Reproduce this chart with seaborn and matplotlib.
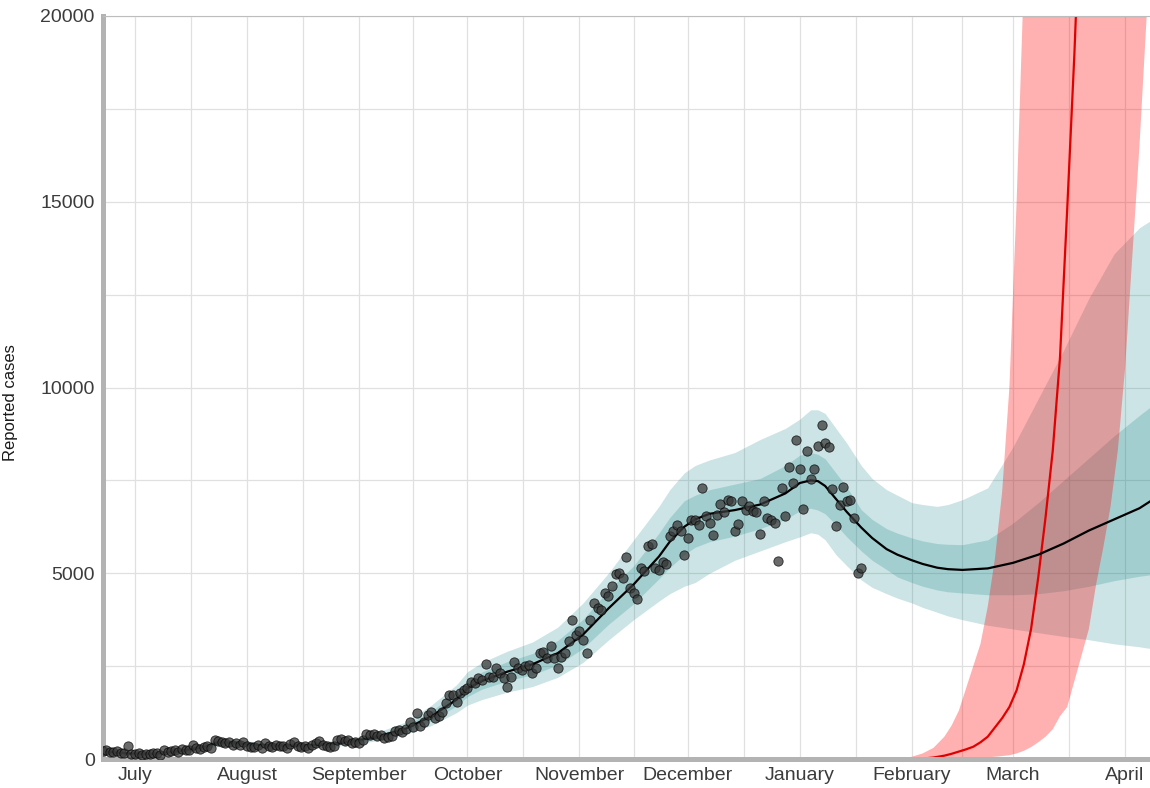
import pandas as pd
import matplotlib
matplotlib.use("Agg")
import matplotlib.pyplot as plt
import seaborn as sns

# Daily reported cases, one value per day starting on case_start
case_start = "2020-06-22"
reported_cases = [
    220, 240, 200, 180, 210, 160, 150, 360, 140, 130,
    150, 120, 140, 130, 160, 150, 120, 240, 180, 220,
    230, 200, 260, 240, 230, 380, 300, 280, 330, 350,
    300, 520, 480, 450, 430, 470, 390, 420, 380, 460,
    350, 320, 330, 380, 300, 440, 350, 320, 390, 340,
    360, 300, 410, 450, 340, 320, 350, 300, 380, 430,
    480, 380, 360, 320, 350, 510, 540, 490, 520, 440,
    470, 430, 500, 680, 640, 660, 620, 650, 560, 580,
    620, 760, 780, 740, 800, 1000, 850, 1230, 900, 1000,
    1190, 1270, 1100, 1150, 1270, 1500, 1720, 1720, 1540, 1770,
    1860, 1900, 2080, 2040, 2180, 2130, 2560, 2220, 2220, 2460,
    2310, 2180, 1950, 2220, 2600, 2440, 2400, 2490, 2530, 2310,
    2440, 2850, 2890, 2710, 3040, 2710, 2440, 2740, 2850, 3170,
    3750, 3340, 3440, 3210, 2850, 3750, 4190, 4060, 4000, 4460,
    4390, 4650, 4980, 5000, 4870, 5440, 4600, 4460, 4300, 5140,
    5050, 5740, 5790, 5140, 5090, 5290, 5250, 5990, 6130, 6310,
    6150, 5500, 5950, 6420, 6420, 6310, 7290, 6530, 6350, 6040,
    6570, 6870, 6660, 6980, 6950, 6140, 6320, 6940, 6710, 6800,
    6670, 6650, 6060, 6940, 6490, 6440, 6350, 5330, 7290, 6530,
    7860, 7440, 8600, 7810, 6730, 8280, 7530, 7810, 8430, 9000,
    8500, 8400, 7270, 6280, 6850, 7320, 6940, 6970, 6500, 5020, 5140,
]

# Model fit: median and the two credible bands
fit_dates = [
    "2020-06-22", "2020-06-29", "2020-07-06", "2020-07-13", "2020-07-20",
    "2020-07-24", "2020-07-27", "2020-08-03", "2020-08-10", "2020-08-17",
    "2020-08-24", "2020-08-31", "2020-09-07", "2020-09-14", "2020-09-21",
    "2020-09-28", "2020-10-01", "2020-10-05", "2020-10-12", "2020-10-19",
    "2020-10-26", "2020-11-02", "2020-11-09", "2020-11-16", "2020-11-23",
    "2020-11-26", "2020-11-30", "2020-12-03", "2020-12-07", "2020-12-14",
    "2020-12-21", "2020-12-28", "2021-01-01", "2021-01-04", "2021-01-06",
    "2021-01-08", "2021-01-11", "2021-01-14", "2021-01-18", "2021-01-21",
    "2021-01-25", "2021-01-28", "2021-02-01", "2021-02-04", "2021-02-08",
    "2021-02-11", "2021-02-15", "2021-02-22", "2021-03-01", "2021-03-08",
    "2021-03-15", "2021-03-22", "2021-03-29", "2021-04-05", "2021-04-09",
]
fit_median = [
    200, 150, 140, 210, 320, 450, 440, 380, 360, 370,
    400, 490, 620, 820, 1150, 1600, 1900, 2100, 2350, 2550,
    2850, 3350, 4050, 4700, 5450, 5850, 6250, 6450, 6600, 6700,
    6850, 7150, 7430, 7500, 7480, 7350, 7000, 6650, 6230, 5950,
    5650, 5500, 5350, 5250, 5150, 5110, 5090, 5130, 5280, 5500,
    5800, 6150, 6450, 6750, 7000,
]
outer_lo = [
    100, 90, 90, 150, 250, 360, 360, 310, 290, 300,
    320, 400, 510, 670, 900, 1250, 1450, 1600, 1800, 1950,
    2200, 2600, 3200, 3750, 4250, 4450, 4650, 4750, 5000, 5350,
    5600, 5850, 5980, 6090, 6050, 5900, 5500, 5200, 4820, 4620,
    4450, 4330, 4200, 4080, 3950, 3850, 3750, 3600, 3500, 3400,
    3300, 3210, 3100, 3020, 2960,
]
outer_hi = [
    300, 220, 200, 280, 400, 540, 530, 460, 440, 450,
    490, 590, 750, 1000, 1450, 2000, 2350, 2600, 2900, 3150,
    3550, 4200, 5000, 5900, 6800, 7250, 7700, 7900, 8050, 8250,
    8600, 8900, 9150, 9400, 9400, 9300, 8900, 8500, 7900, 7550,
    7250, 7100, 6900, 6850, 6800, 6850, 6980, 7300, 8400, 9700,
    11000, 12400, 13600, 14300, 14550,
]
inner_lo = [
    150, 115, 110, 180, 285, 410, 400, 345, 325, 335,
    360, 445, 560, 740, 1030, 1430, 1680, 1880, 2100, 2270,
    2530, 2980, 3620, 4180, 4850, 5150, 5500, 5700, 5850, 6000,
    6200, 6450, 6680, 6750, 6700, 6600, 6300, 5980, 5600, 5350,
    5100, 4900, 4750, 4650, 4550, 4500, 4470, 4420, 4420, 4450,
    4530, 4650, 4800, 4920, 4970,
]
inner_hi = [
    250, 185, 170, 245, 360, 495, 485, 420, 400, 410,
    445, 540, 690, 900, 1290, 1790, 2110, 2340, 2620, 2840,
    3190, 3760, 4540, 5200, 6080, 6500, 6950, 7100, 7250, 7400,
    7550, 7900, 8180, 8250, 8200, 8080, 7700, 7320, 6710, 6450,
    6200, 6080, 5950, 5870, 5800, 5780, 5770, 5900, 6350, 6900,
    7500, 8100, 8700, 9250, 9550,
]

# New variant projection
variant_dates = [
    "2021-01-29", "2021-02-01", "2021-02-04", "2021-02-07", "2021-02-10",
    "2021-02-12", "2021-02-14", "2021-02-16", "2021-02-18", "2021-02-20",
    "2021-02-22", "2021-02-24", "2021-02-26", "2021-02-28", "2021-03-02",
    "2021-03-04", "2021-03-06", "2021-03-08", "2021-03-10", "2021-03-12",
    "2021-03-14", "2021-03-16", "2021-03-18", "2021-03-20", "2021-03-22",
    "2021-03-24", "2021-03-26", "2021-03-28", "2021-03-30", "2021-04-01",
    "2021-04-03", "2021-04-05", "2021-04-07", "2021-04-09",
]
variant_lo = [
    0, 0, 0, 0, 5, 10, 15, 20, 30, 40,
    50, 60, 80, 100, 150, 220, 320, 450, 600, 800,
    1150, 1400, 2100, 2800, 3500, 4700, 5700, 6800, 8300, 10500,
    13500, 16500, 20000, 23000,
]
variant_median = [
    0, 0, 10, 40, 90, 140, 200, 260, 330, 450,
    600, 850, 1100, 1400, 1850, 2550, 3500, 4900, 6500, 8300,
    10800, 14800, 19000, 24000, 30000, 37000, 45000, 55000, 65000, 78000,
    92000, 110000, 130000, 150000,
]
variant_hi = [
    0, 60, 150, 300, 600, 900, 1300, 1900, 2500, 3100,
    4100, 5400, 7200, 10000, 15000, 21000, 28000, 36000, 45000, 55000,
    65000, 80000, 95000, 110000, 130000, 150000, 170000, 190000, 210000, 230000,
    250000, 270000, 290000, 310000,
]

month_starts = [
    "2020-07-01", "2020-08-01", "2020-09-01", "2020-10-01", "2020-11-01",
    "2020-12-01", "2021-01-01", "2021-02-01", "2021-03-01", "2021-04-01",
]
month_labels = [
    "July", "August", "September", "October", "November",
    "December", "January", "February", "March", "April",
]
y_ticks = [0, 5000, 10000, 15000, 20000]
y_minor = [2500, 7500, 12500, 17500]

cases = pd.DataFrame({
    "date": pd.date_range(case_start, periods=len(reported_cases), freq="D"),
    "cases": reported_cases,
})
fit = pd.DataFrame({
    "date": pd.to_datetime(fit_dates),
    "median": fit_median,
    "outer_lo": outer_lo, "outer_hi": outer_hi,
    "inner_lo": inner_lo, "inner_hi": inner_hi,
})
variant = pd.DataFrame({
    "date": pd.to_datetime(variant_dates),
    "lo": variant_lo, "median": variant_median, "hi": variant_hi,
})

sns.set_theme(style="whitegrid")
plt.rcParams["font.family"] = ["Liberation Sans", "DejaVu Sans"]

fig = plt.figure(figsize=(11.5, 7.88), dpi=100)
ax = fig.add_axes([103 / 1150, 29 / 788, 1047 / 1150, 743 / 788])
ax.set_facecolor("white")

teal = "#007A7D"
ax.fill_between(fit["date"], fit["outer_lo"], fit["outer_hi"], color=teal, alpha=0.2, lw=0, zorder=1)
ax.fill_between(fit["date"], fit["inner_lo"], fit["inner_hi"], color=teal, alpha=0.2, lw=0, zorder=1)
ax.fill_between(variant["date"], variant["lo"], variant["hi"], color="red", alpha=0.31, lw=0, zorder=1.2)

sns.lineplot(data=variant, x="date", y="median", color="#E00000", lw=1.6, ax=ax, zorder=2)
sns.lineplot(data=fit, x="date", y="median", color="black", lw=1.6, ax=ax, zorder=2)
sns.scatterplot(data=cases, x="date", y="cases", s=45, color="#3a3a3a", alpha=0.75,
                edgecolor="black", linewidth=0.6, ax=ax, zorder=3)

# axes, ticks and grid
months = pd.to_datetime(month_starts)
mids = months[:-1] + (months[1:] - months[:-1]) / 2
ax.set_xticks(months)
ax.set_xticklabels(month_labels)
ax.set_xticks(mids, minor=True)
ax.set_yticks(y_ticks)
ax.set_yticklabels([str(v) for v in y_ticks])
ax.set_yticks(y_minor, minor=True)
ax.set_xlim(pd.Timestamp("2020-06-22 03:00"), pd.Timestamp("2021-04-07 22:00"))
ax.set_ylim(0, 20000)

ax.grid(which="both", color="#E0E0E0", lw=0.9)
ax.set_axisbelow(True)
ax.tick_params(which="major", length=4, width=0.9, color="#B3B3B3",
               labelsize=14, labelcolor="#3C3C3C", pad=2)
ax.tick_params(which="minor", length=0)

for side in ["left", "bottom"]:
    ax.spines[side].set_visible(True)
    ax.spines[side].set_color("#B3B3B3")
    ax.spines[side].set_linewidth(3.6)
ax.spines["top"].set_visible(True)
ax.spines["top"].set_color("#BDBDBD")
ax.spines["top"].set_linewidth(0.8)
ax.spines["right"].set_visible(False)

ax.set_xlabel("")
ax.set_ylabel("Reported cases", fontsize=12, color="#1A1A1A")
ax.yaxis.set_label_coords(-0.081, 0.48)

fig.savefig("out.png", dpi=100)
